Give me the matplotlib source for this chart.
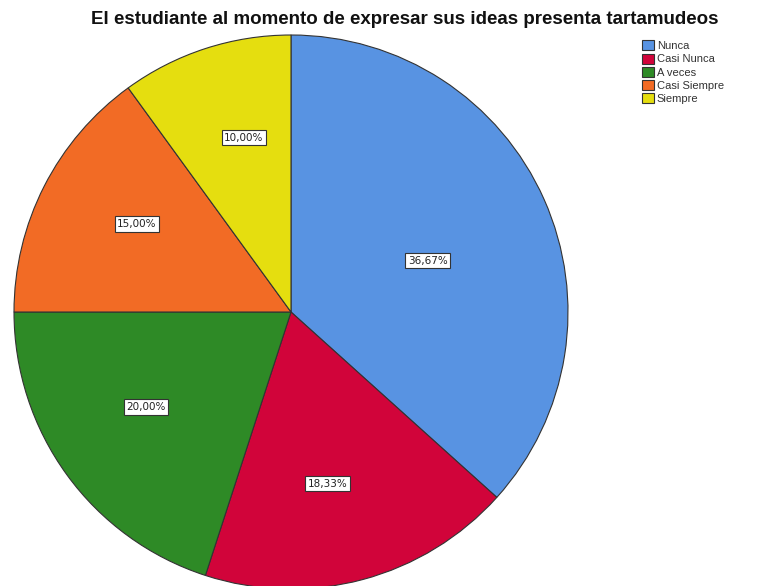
import numpy as np
import matplotlib
matplotlib.use("Agg")
import matplotlib.pyplot as plt

categories = ["Nunca", "Casi Nunca", "A veces", "Casi Siempre", "Siempre"]
percentages = [36.67, 18.33, 20.00, 15.00, 10.00]
colors = ["#5893E2", "#D1043A", "#2E8A26", "#F26B25", "#E5DE0F"]
title = "El estudiante al momento de expresar sus ideas presenta tartamudeos"

plt.rcParams["font.family"] = ["Liberation Sans", "DejaVu Sans"]

fig = plt.figure(figsize=(7.84, 5.86), dpi=100)
ax = fig.add_axes([14 / 784, -3 / 586, 554 / 784, 554 / 586])

wedges, _ = ax.pie(percentages, colors=colors, startangle=90, counterclock=False,
                   radius=1.0,
                   wedgeprops=dict(edgecolor="#333333", linewidth=0.8))
ax.set_aspect("equal")
ax.set_xlim(-1, 1)
ax.set_ylim(-1, 1)

# labels near the centroid of each sector, nudged a little clockwise
for w, p in zip(wedges, percentages):
    half = np.deg2rad(abs(w.theta2 - w.theta1) / 2)
    mid = np.deg2rad((w.theta1 + w.theta2) / 2 - 3)
    d = 2 * np.sin(half) / (3 * half)
    txt = f"{p:.2f}%".replace(".", ",")
    ax.text(d * np.cos(mid), d * np.sin(mid), txt, ha="center", va="center_baseline",
            fontsize=7.5, color="#222222", family="DejaVu Sans",
            bbox=dict(boxstyle="square,pad=0.25", facecolor="white",
                      edgecolor="#333333", linewidth=0.8))

fig.text(405 / 784, 1 - 19 / 586, title, ha="center", va="center",
         fontsize=13.5, fontweight="bold", color="#111111")

leg = fig.legend(wedges, categories, loc="upper left",
                 bbox_to_anchor=(638 / 784, 1 - 36 / 586), frameon=False,
                 fontsize=8, handlelength=1.0, handleheight=1.0,
                 handletextpad=0.3, labelspacing=0.22, borderaxespad=0)
for t in leg.get_texts():
    t.set_color("#333333")

fig.savefig("out.png", dpi=100, facecolor="white")
